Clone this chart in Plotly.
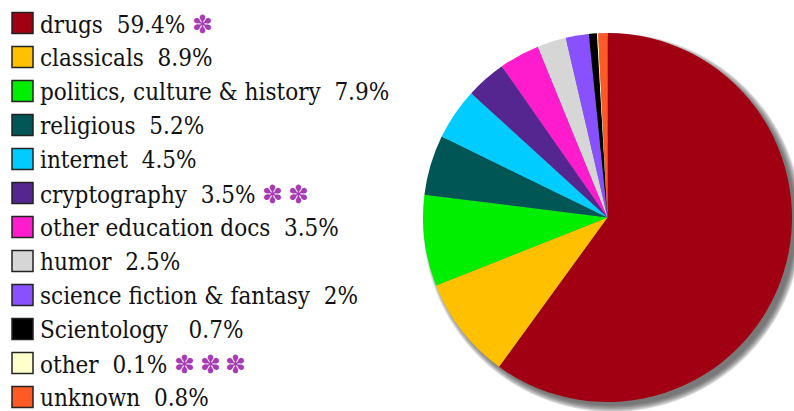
import plotly.graph_objects as go

# Topic breakdown of the collection
categories = [
    "drugs", "classicals", "politics, culture & history", "religious",
    "internet", "cryptography", "other education docs", "humor",
    "science fiction & fantasy", "Scientology", "other", "unknown",
]
shares = [59.4, 8.9, 7.9, 5.2, 4.5, 3.5, 3.5, 2.5, 2, 0.7, 0.1, 0.8]
footnote_marks = [1, 0, 0, 0, 0, 2, 0, 0, 0, 0, 3, 0]
colors = [
    "#a00012", "#ffc000", "#00ee00", "#005555", "#00ccff", "#552590",
    "#ff1ccc", "#d6d6d6", "#8850ff", "#000000", "#ffffcc", "#ff5a26",
]

W, H = 794, 411
STAR_COLOR = "#a53cb4"
FONT = "DejaVu Serif Condensed"


def px(x):
    return x / W


def py(y):
    return 1 - y / H


fig = go.Figure()

# Pie geometry in pixels
cx, cy, r = 607.5, 217.5, 184.5

fig.add_trace(go.Pie(
    labels=categories,
    values=shares,
    marker=dict(colors=colors, line=dict(width=0)),
    sort=False,
    direction="clockwise",
    rotation=0,
    textinfo="none",
    hoverinfo="label+percent",
    showlegend=False,
    domain=dict(x=[px(cx - r), px(cx + r)], y=[py(cy + r), py(cy - r)]),
))

shapes = []
# Soft drop shadow behind the pie
off = 5
for k in range(7):
    rr = r + k - 1
    shapes.append(dict(
        type="circle", xref="paper", yref="paper", layer="below",
        x0=px(cx + off - rr), x1=px(cx + off + rr),
        y0=py(cy + off + rr), y1=py(cy + off - rr),
        fillcolor="rgba(70,70,70,0.16)", line=dict(width=0),
    ))

# Hand-built legend: bordered swatches with labels
annotations = []
row0, step, sw = 23, 34.0, 21
for i, (cat, val, col, nstar) in enumerate(zip(categories, shares, colors, footnote_marks)):
    yc = row0 + i * step
    shapes.append(dict(
        type="rect", xref="paper", yref="paper",
        x0=px(12), x1=px(12 + sw), y0=py(yc + sw / 2), y1=py(yc - sw / 2),
        fillcolor=col, line=dict(color="#222222", width=1.5),
    ))
    gap = "\u00a0\u00a0\u00a0" if cat == "Scientology" else "\u00a0\u00a0"
    txt = f"{cat}{gap}{val:g}%"
    if nstar:
        stars = "\u2009".join(["\u273d"] * nstar)
        txt += "\u00a0<span style='color:%s;font-size:25px'>%s</span>" % (STAR_COLOR, stars)
    annotations.append(dict(
        text=txt, xref="paper", yref="paper", x=px(38), y=py(yc + 1),
        xanchor="left", yanchor="middle", showarrow=False,
        font=dict(family=FONT, size=24, color="#111111"),
    ))

fig.update_layout(
    width=W, height=H,
    margin=dict(l=0, r=0, t=0, b=0),
    paper_bgcolor="white", plot_bgcolor="white",
    shapes=shapes, annotations=annotations,
)

fig.write_html("out.html")
